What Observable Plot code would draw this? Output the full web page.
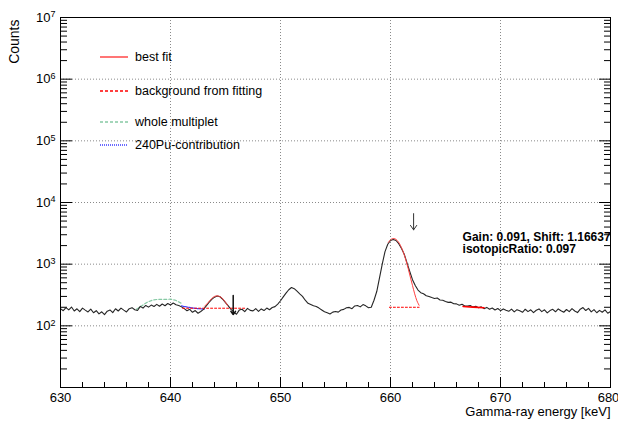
<!DOCTYPE html>
<html><head><meta charset="utf-8">
<script src="https://cdn.jsdelivr.net/npm/d3@7"></script>
<script src="https://cdn.jsdelivr.net/npm/@observablehq/plot@0.6"></script>
<style>
html,body{margin:0;padding:0;background:#fff;}
#chart{position:relative;width:618px;height:421px;font-family:"Liberation Sans",Arial,Helvetica,sans-serif;}
#legend{position:absolute;left:0;top:0;pointer-events:none;}
</style></head><body><div id="chart"></div>
<script>
// Measured spectrum: bin start energy, bin step (keV), counts per bin
const specStart = 630, specStep = 0.25;
const specCounts = [
  190,176,197,181,202,174,189,170,194,180,
  168,187,163,176,156,169,152,173,181,164,
  189,174,194,180,168,190,197,182,177,207,
  194,214,201,217,206,223,208,226,212,230,
  218,
  234,220,214,203,190,176,185,166,177,160,
  171,185,210,240,268,292,305,296,270,238,
  210,185,168,154,180,186,170,192,178,175,
  190,172,188,177,194,182,198,205,225,255,
  295,340,385,418,400,365,330,300,260,232,
  221,211,206,194,181,169,163,156,167,171,
  167,181,185,196,199,190,210,214,203,221,
  211,197,200,260,360,600,1000,1600,2100,2420,
  2520,2420,2150,1800,1450,1050,760,560,450,380,
  345,332,308,300,288,278,282,263,260,248,
  240,242,228,227,216,224,210,209,214,201,
  207,196,203,190,199,186,195,181,191,176,
  188,179,172,187,168,183,175,166,186,170,
  182,164,179,188,170,182,162,177,185,169,
  188,176,166,184,170,190,174,164,186,198,
  177,192,168,183,163,178,166,182,160,171
];

// Fit curves
const fitMainE = [659.8,660.0,660.2,660.4,660.6,660.8,661.0,661.2,661.4,661.6,661.8,662.0,662.2,662.4,662.6];
const fitMainC = [2250,2480,2600,2580,2430,2180,1850,1500,1160,860,620,450,330,255,215];
const bgMainE = [659.9,662.6];
const bgMainC = [200,200];
const fitLeftE = [643.1,643.4,643.7,644.0,644.3,644.6,644.9,645.2];
const fitLeftC = [208,236,272,300,306,290,255,212];
const bgLeftE = [641.1,646.9];
const bgLeftC = [193,193];
const fitRightE = [666.6,667.5,668.5];
const fitRightC = [206,201,196];
const puE = [641.0,641.5,642.0,642.5,643.1];
const puC = [210,202,195,190,187];
const multE = [636.9,637.4,637.9,638.4,639.0,639.5,640.0,640.4,640.8,641.1];
const multC = [185,212,242,263,270,268,271,262,242,225];

// Arrows (energy, top count, bottom count)
const arrowE = [662.1, 645.7];
const arrowTop = [6600, 310];
const arrowBottom = [3600, 152];

// Annotation texts
const noteTexts = ["Gain: 0.091, Shift: 1.16637", "isotopicRatio: 0.097"];
const noteE = [666.55, 666.55];
const noteC = [2400, 1500];

// Axis ticks
const xMajorTicks = [630,640,650,660,670,680];
const xLabelTicks = [630,640,650,660,670];
const xLastLabel = [680];
const xMinorTicks = [632,634,636,638,642,644,646,648,652,654,656,658,662,664,666,668,672,674,676,678];
const xGridTicks = [640,650,660,670];
const yDecades = [1e1,1e2,1e3,1e4,1e5,1e6,1e7];
const yLabelTicks = [1e2,1e3,1e4,1e5,1e6,1e7];
const yGridTicks = [1e2,1e3,1e4,1e5,1e6];
const yMinorMult = [2,3,4,5,6,7,8,9];
const yMinorTicks = yDecades.slice(0,-1).flatMap(d => yMinorMult.map(m => m*d));

// Legend
const legendLabels = ["best fit","background from fitting","whole multiplet","240Pu-contribution"];
const legendColors = ["#ff2a2a","#ff0000","#86c9a4","#3b3bff"];
const legendDash = ["none","3,2","3,2","1,1"];
const legendY = [57,91,122,145];

const zip = (E, C) => E.map((e,i) => ({e, c: C[i]}));
const spectrum = specCounts.map((c,i) => ({e: specStart + i*specStep, c}));
const arrows = arrowE.map((e,i) => ({e, top: arrowTop[i], bottom: arrowBottom[i]}));
const notes = noteTexts.map((t,i) => ({t, e: noteE[i], c: noteC[i]}));

const font = "Liberation Sans, Arial, Helvetica, sans-serif";
const plot = Plot.plot({
  width: 618, height: 421,
  marginLeft: 60, marginRight: 8, marginTop: 17, marginBottom: 34,
  style: {fontFamily: font, background: "#fff", color: "#000", overflow: "visible"},
  x: {domain: [630, 680], label: null},
  y: {type: "log", domain: [10, 1e7], label: null},
  marks: [
    Plot.gridX(xGridTicks, {stroke: "#8a8a8a", strokeOpacity: 1, strokeDasharray: "1,2"}),
    Plot.gridY(yGridTicks, {stroke: "#8a8a8a", strokeOpacity: 1, strokeDasharray: "1,2"}),
    // axis labels
    Plot.axisX(xLabelTicks, {tickSize: 0, tickPadding: 5, fontSize: 13, label: null, tickFormat: d => String(d)}),
    Plot.axisX(xLastLabel, {tickSize: 0, tickPadding: 5, fontSize: 13, label: null, dx: -2, tickFormat: d => String(d)}),
    Plot.axisY(yLabelTicks, {anchor: "left", tickSize: 0, tickPadding: 5, fontSize: 13, label: null, tickFormat: d => String(Math.round(Math.log10(d)))}),
    // inward ticks
    Plot.axisX(xMajorTicks, {tickSize: -10, fill: "none", stroke: "#000", label: null}),
    Plot.axisX(xMinorTicks, {tickSize: -5, fill: "none", stroke: "#000", label: null}),
    Plot.axisY(yDecades, {anchor: "left", tickSize: -12, fill: "none", stroke: "#000", label: null}),
    Plot.axisY(yMinorTicks, {anchor: "left", tickSize: -7, fill: "none", stroke: "#000", label: null}),
    Plot.axisY(yDecades, {anchor: "right", tickSize: -12, fill: "none", stroke: "#000", label: null}),
    Plot.axisY(yMinorTicks, {anchor: "right", tickSize: -7, fill: "none", stroke: "#000", label: null}),
    // data
    Plot.line(zip(multE, multC), {x: "e", y: "c", stroke: "#86c9a4", strokeWidth: 1.2, strokeDasharray: "3,2"}),
    Plot.line(zip(puE, puC), {x: "e", y: "c", stroke: "#3b3bff", strokeWidth: 1.2, strokeDasharray: "1,1"}),
    Plot.line(spectrum, {x: "e", y: "c", stroke: "#262626", strokeWidth: 1.1}),
    Plot.line(zip(bgLeftE, bgLeftC), {x: "e", y: "c", stroke: "#ff0000", strokeWidth: 1, strokeDasharray: "2,2"}),
    Plot.line(zip(bgMainE, bgMainC), {x: "e", y: "c", stroke: "#ff0000", strokeWidth: 1, strokeDasharray: "2,2"}),
    Plot.line(zip(fitRightE, fitRightC), {x: "e", y: "c", stroke: "#ff0000", strokeWidth: 1.6}),
    Plot.line(zip(fitLeftE, fitLeftC), {x: "e", y: "c", stroke: "#ff4040", strokeWidth: 1, curve: "catmull-rom"}),
    Plot.line(zip(fitMainE, fitMainC), {x: "e", y: "c", stroke: "#ff4040", strokeWidth: 1, curve: "catmull-rom"}),
    Plot.arrow(arrows.slice(0,1), {x1: "e", x2: "e", y1: "top", y2: "bottom", stroke: "#333", strokeWidth: 1, headLength: 9, headAngle: 70}),
    Plot.arrow(arrows.slice(1), {x1: "e", x2: "e", y1: "top", y2: "bottom", stroke: "#111", strokeWidth: 1.5, headLength: 4, headAngle: 70}),
    Plot.text(notes, {x: "e", y: "c", text: "t", textAnchor: "start", lineAnchor: "bottom", fontSize: 12, fontWeight: "bold", fill: "#000"}),
    Plot.text(["Counts"], {frameAnchor: "top-left", rotate: -90, textAnchor: "end", lineAnchor: "middle", dx: -46, dy: 2, fontSize: 14, fill: "#000"}),
    Plot.text(["Gamma-ray energy [keV]"], {frameAnchor: "bottom-right", textAnchor: "end", lineAnchor: "top", dy: 19, fontSize: 13, fill: "#000"}),
    Plot.frame({stroke: "#000", strokeWidth: 1})
  ]
});
document.getElementById("chart").appendChild(plot);

// Superscript exponents on log-axis labels
d3.select(plot).selectAll('g[aria-label="y-axis tick label"] text').each(function() {
  const exp = this.textContent;
  if (!exp) return;
  this.textContent = "10";
  d3.select(this).append("tspan").attr("dy", "-0.5em").attr("font-size", "9px").text(exp);
});

// Legend
const leg = d3.select("#chart").append("svg").attr("id", "legend").attr("width", 618).attr("height", 421);
legendLabels.forEach((label, i) => {
  leg.append("line").attr("x1", 100).attr("x2", 128).attr("y1", legendY[i]).attr("y2", legendY[i])
    .attr("stroke", legendColors[i]).attr("stroke-width", 1.3)
    .attr("stroke-dasharray", legendDash[i] === "none" ? null : legendDash[i]);
  leg.append("text").attr("x", 135).attr("y", legendY[i]).attr("dy", "0.35em")
    .attr("font-family", font).attr("font-size", 12.5).attr("fill", "#000").text(label);
});
</script></body></html>
